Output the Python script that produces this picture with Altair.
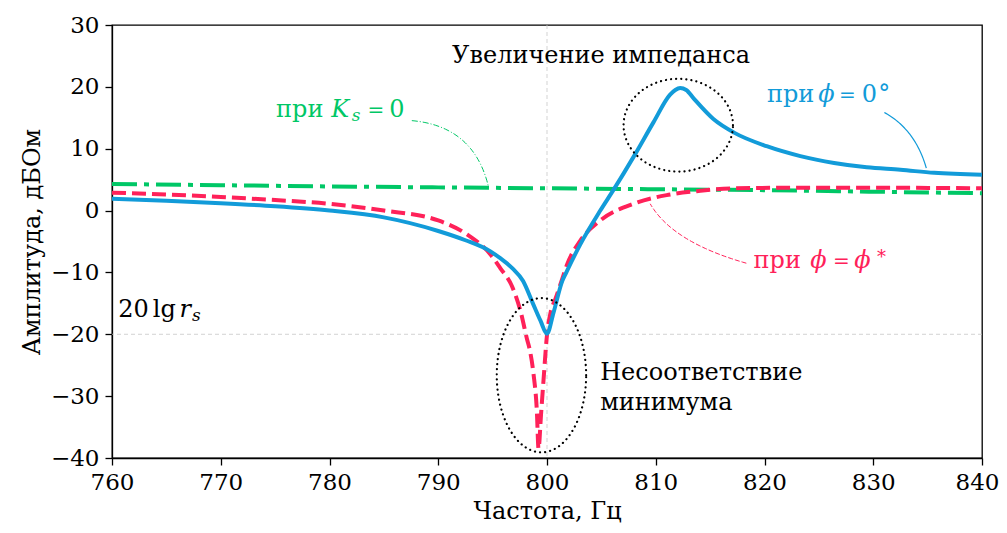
import altair as alt
import numpy as np
import pandas as pd

# ---- data ----
blue_f = [760, 765, 770, 775, 780, 785, 790, 792.5, 794.8, 795.7, 796.8, 797.8, 798.7, 799.4, 800.0,
          800.6, 801.4, 801.8, 803.05, 804.9, 806.1, 808.0, 809.8, 811.3, 811.8, 812.25, 812.8, 813.5,
          815.3, 817.2, 820.2, 823.3, 826.4, 829.4, 832.5, 835.6, 840]
blue_v = [1.9, 1.6, 1.2, 0.7, 0.0, -1.1, -3.3, -4.8, -6.6, -7.7, -9.3, -11.4, -15.0, -17.8, -19.9,
          -16.5, -11.4, -9.9, -5.5, 0.0, 3.3, 8.8, 14.3, 18.7, 19.5, 19.8, 19.5, 18.1,
          14.8, 12.6, 10.4, 8.8, 7.7, 7.0, 6.6, 6.1, 5.8]

red_f = [760, 765, 770, 775, 780, 785, 790, 792.6, 794.8, 795.7, 796.8, 797.6, 798.15, 798.45, 798.76,
         799.07, 799.22, 799.45, 799.68, 800.0, 800.35, 800.75, 801.37, 801.83, 803.05, 804.9, 807.96,
         811.0, 814.1, 817.2, 823.3, 829.4, 840]
red_v = [2.9, 2.6, 2.2, 1.7, 1.1, 0.0, -1.6, -3.8, -7.1, -9.3, -12.3, -16.5, -20.7, -22.8, -26.4,
         -32.5, -38.5, -33.0, -27.4, -20.1, -16.3, -14.4, -11.2, -8.8, -4.9, -1.6, 1.1,
         2.5, 3.2, 3.6, 3.7, 3.7, 3.6]

green_f = [760, 770, 780, 790, 800, 810, 820, 830, 840]
green_v = [4.3, 4.1, 3.9, 3.75, 3.6, 3.45, 3.3, 3.05, 2.8]

x_ticks = [760, 770, 780, 790, 800, 810, 820, 830, 840]
y_ticks = [-40, -30, -20, -10, 0, 10, 20, 30]

BLUE = "#129bd9"
RED = "#ff2159"
GREEN = "#00c766"
FONT = "DejaVu Serif"

xs = alt.Scale(domain=[760, 840], nice=False, zero=False)
ys = alt.Scale(domain=[-40, 30], nice=False, zero=False)
x_axis = alt.Axis(values=x_ticks, format="d", labelFlush=False, labelOverlap=False, titlePadding=5,
                  labelOffset={"condition": {"test": "datum.value === 840", "value": -5}, "value": 0})
y_axis = alt.Axis(values=y_ticks, format="d", labelOverlap=False)
X = lambda f: alt.X(f, type="quantitative", scale=xs, axis=x_axis, title="Частота, Гц")
Y = lambda f: alt.Y(f, type="quantitative", scale=ys, axis=y_axis, title="Амплитуда, дБОм")

blue_df = pd.DataFrame({"f": blue_f, "v": blue_v})
red_df = pd.DataFrame({"f": red_f, "v": red_v})
green_df = pd.DataFrame({"f": green_f, "v": green_v})

# reference lines
vrule = alt.Chart(pd.DataFrame({"f": [800]})).mark_rule(
    color="#c8c8c8", strokeDash=[4, 3], strokeWidth=0.8).encode(x=X("f"))
hrule = alt.Chart(pd.DataFrame({"v": [-20]})).mark_rule(
    color="#c8c8c8", strokeDash=[4, 3], strokeWidth=0.8).encode(y=Y("v"))

green_line = alt.Chart(green_df).mark_line(
    color=GREEN, strokeWidth=4, strokeDash=[25, 7, 5, 7], interpolate="monotone", clip=True
).encode(x=X("f"), y=Y("v"))
red_line = alt.Chart(red_df).mark_line(
    color=RED, strokeWidth=4, strokeDash=[14, 6], interpolate="monotone", clip=True
).encode(x=X("f"), y=Y("v"))
blue_line = alt.Chart(blue_df).mark_line(
    color=BLUE, strokeWidth=4, interpolate="monotone", clip=True
).encode(x=X("f"), y=Y("v"))


def ellipse(cx, cy, rx, ry):
    t = np.linspace(0, 2 * np.pi, 240)
    return pd.DataFrame({"f": cx + rx * np.cos(t), "v": cy + ry * np.sin(t), "i": np.arange(len(t))})


def bezier(s, c, e):
    t = np.linspace(0, 1, 40)
    fx = (1 - t) ** 2 * s[0] + 2 * (1 - t) * t * c[0] + t ** 2 * e[0]
    fy = (1 - t) ** 2 * s[1] + 2 * (1 - t) * t * c[1] + t ** 2 * e[1]
    return pd.DataFrame({"f": fx, "v": fy, "i": np.arange(len(t))})


ell1 = alt.Chart(ellipse(812.07, 13.8, 5.03, 7.5)).mark_line(
    color="black", strokeWidth=2.2, strokeDash=[0.1, 5], strokeCap="round", clip=True
).encode(x=X("f"), y=Y("v"), order="i:Q")
ell2 = alt.Chart(ellipse(799.49, -26.62, 4.11, 12.47)).mark_line(
    color="black", strokeWidth=2.2, strokeDash=[0.1, 5], strokeCap="round", clip=True
).encode(x=X("f"), y=Y("v"), order="i:Q")

con_g = alt.Chart(bezier((787.57, 14.54), (793.30, 13.65), (794.62, 3.83))).mark_line(
    color=GREEN, strokeWidth=1, strokeDash=[6, 2, 1, 2]).encode(x=X("f"), y=Y("v"), order="i:Q")
con_b = alt.Chart(bezier((831.02, 15.86), (833.87, 13.10), (834.88, 6.85))).mark_line(
    color=BLUE, strokeWidth=1.2).encode(x=X("f"), y=Y("v"), order="i:Q")
con_r = alt.Chart(bezier((818.33, -8.51), (811.52, -5.11), (809.49, 1.10))).mark_line(
    color=RED, strokeWidth=1, strokeDash=[5, 2]).encode(x=X("f"), y=Y("v"), order="i:Q")

# annotation text pieces
normal = pd.DataFrame([
    # green
    (775.09, 15.09, "при", GREEN, 24),
    (783.50, 15.09, "=", GREEN, 20),
    (785.50, 15.09, "0", GREEN, 24),
    # blue
    (820.22, 17.61, "при", BLUE, 24),
    (826.85, 17.61, "=", BLUE, 20),
    (828.95, 17.61, "0", BLUE, 24),
    (830.45, 17.61, "°", BLUE, 24),
    # red
    (818.99, -9.31, "при", RED, 24),
    (826.30, -9.31, "=", RED, 20),
    (830.35, -8.4, "*", RED, 18),
    # black
    (760.58, -17.17, "20", "black", 24),
    (763.75, -17.17, "lg", "black", 24),
    (804.89, -27.35, "Несоответствие", "black", 24),
    (804.89, -32.20, "минимума", "black", 24),
], columns=["f", "v", "t", "c", "s"])

italic = pd.DataFrame([
    (780.15, 15.09, "K", GREEN, 24),
    (782.05, 14.54, "s", GREEN, 17),
    (824.95, 17.61, "ϕ", BLUE, 24),
    (824.21, -9.31, "ϕ", RED, 24),
    (828.25, -9.31, "ϕ", RED, 24),
    (766.20, -17.17, "r", "black", 24),
    (767.35, -17.93, "s", "black", 17),
], columns=["f", "v", "t", "c", "s"])

txt_n = alt.Chart(normal).mark_text(align="left", baseline="alphabetic", font=FONT).encode(
    x=X("f"), y=Y("v"), text="t:N", color=alt.Color("c:N", scale=None), size=alt.Size("s:Q", scale=None))
txt_i = alt.Chart(italic).mark_text(align="left", baseline="alphabetic", font=FONT, fontStyle="italic").encode(
    x=X("f"), y=Y("v"), text="t:N", color=alt.Color("c:N", scale=None), size=alt.Size("s:Q", scale=None))
title_txt = alt.Chart(pd.DataFrame({"f": [804.97], "v": [23.81], "t": ["Увеличение импеданса"]})).mark_text(
    align="center", baseline="alphabetic", font=FONT, fontSize=24, color="black"
).encode(x=X("f"), y=Y("v"), text="t:N")

chart = alt.layer(
    vrule, hrule, green_line, red_line, blue_line, ell1, ell2, con_g, con_b, con_r,
    txt_n, txt_i, title_txt
).properties(
    width=870, height=433,
    autosize=alt.AutoSizeParams(type="none"),
    padding={"left": 104, "top": 17, "right": 17, "bottom": 67},
).configure(font=FONT).configure_view(
    stroke="black", strokeWidth=1.3
).configure_axis(
    grid=False, domainColor="black", domainWidth=1.3, tickColor="black", tickWidth=1.3, tickSize=7,
    labelFont=FONT, labelFontSize=23, labelColor="black", labelPadding=6,
    titleFont=FONT, titleFontSize=24, titleFontWeight="normal", titleColor="black", titlePadding=6,
)

chart.save("out.html", embed_options={"renderer": "svg", "actions": False})
